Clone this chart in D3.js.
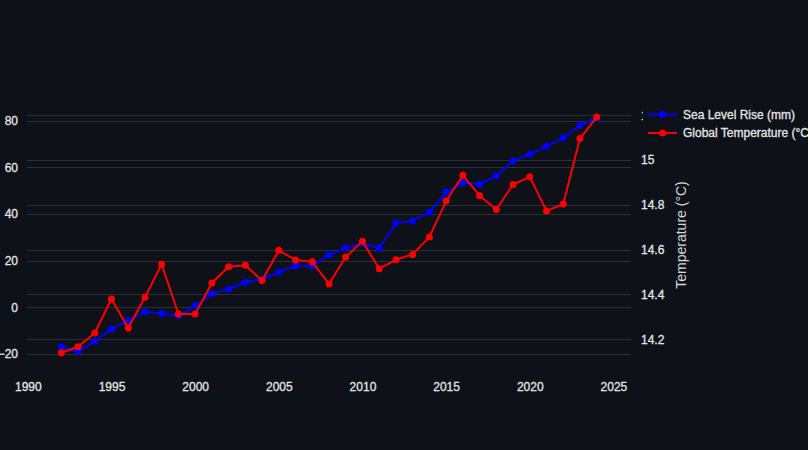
<!DOCTYPE html>
<html>
<head>
<meta charset="utf-8">
<script src="https://cdn.jsdelivr.net/npm/d3@7"></script>
<style>
  html, body { margin: 0; padding: 0; background: #0e1117; }
  svg { display: block; }
  text { font-family: "Liberation Sans", Arial, sans-serif; }
</style>
</head>
<body>
<svg id="chart" width="808" height="450"></svg>
<script>
const years = [1992,1993,1994,1995,1996,1997,1998,1999,2000,2001,2002,2003,2004,2005,2006,2007,2008,2009,2010,2011,2012,2013,2014,2015,2016,2017,2018,2019,2020,2021,2022,2023,2024];
const seaLevel = [-16.9,-19.0,-14.6,-9.3,-5.7,-1.9,-2.7,-3.7,0.6,5.8,7.8,10.7,12.1,15.0,17.8,17.8,22.4,25.5,27.4,25.3,36.1,37.0,40.8,49.4,53.3,52.7,56.3,62.7,65.6,69.0,72.6,78.0,81.0];
const temperature = [14.14,14.167,14.228,14.38,14.25,14.388,14.535,14.313,14.313,14.451,14.524,14.53,14.462,14.597,14.554,14.546,14.447,14.567,14.638,14.515,14.555,14.579,14.657,14.817,14.932,14.841,14.779,14.891,14.925,14.773,14.804,15.096,15.192];
const xTicks = [1990,1995,2000,2005,2010,2015,2020,2025];
const leftTicks = [-20,0,20,40,60,80];
const rightTicks = [14.2,14.4,14.6,14.8,15,15.2];
const seriesNames = ["Sea Level Rise (mm)", "Global Temperature (°C)"];
const seriesColors = ["#0000ff", "#ff0000"];

const svg = d3.select("#chart");
const W = 808, H = 450;
const plot = {left: 27, right: 631, top: 100, bottom: 370};
const bg = "#0e1117", grid = "#2c2f38", tickColor = "#e4e5e8";

svg.append("rect").attr("width", W).attr("height", H).attr("fill", bg);

const x = d3.scaleLinear().domain([1989.95, 2026.05]).range([plot.left, plot.right]);
const yL = d3.scaleLinear().domain([-26.9, 88.8]).range([plot.bottom, plot.top]);
const yR = d3.scaleLinear().domain([14.063, 15.268]).range([plot.bottom, plot.top]);

// grid lines
const gGrid = svg.append("g");
gGrid.selectAll("line.l").data(leftTicks).join("line")
  .attr("x1", plot.left).attr("x2", plot.right)
  .attr("y1", d => Math.round(yL(d)) + 0.5).attr("y2", d => Math.round(yL(d)) + 0.5)
  .attr("stroke", grid).attr("stroke-width", 1);
gGrid.selectAll("line.r").data(rightTicks).join("line")
  .attr("x1", plot.left).attr("x2", plot.right)
  .attr("y1", d => Math.round(yR(d)) + 0.5).attr("y2", d => Math.round(yR(d)) + 0.5)
  .attr("stroke", grid).attr("stroke-width", 1);

const styleText = sel => sel.attr("fill", tickColor).attr("stroke", tickColor)
  .attr("stroke-width", 0.3).style("font-size", "12px")
  .style("font-family", '"Liberation Sans", Arial, sans-serif');

// axes via d3 axis generators (no domain lines, no tick lines)
const fmtMinus = d => (d < 0 ? "\u2212" + Math.abs(d) : String(d));
const axX = svg.append("g").attr("transform", `translate(0,${plot.bottom})`)
  .call(d3.axisBottom(x).tickValues(xTicks).tickFormat(d3.format("d")).tickSize(0).tickPadding(12.5));
const axL = svg.append("g").attr("transform", `translate(${plot.left},0)`)
  .call(d3.axisLeft(yL).tickValues(leftTicks).tickFormat(fmtMinus).tickSize(0).tickPadding(9));
const axR = svg.append("g").attr("transform", `translate(${plot.right},0)`)
  .call(d3.axisRight(yR).tickValues(rightTicks).tickFormat(d => String(d)).tickSize(0).tickPadding(10));
[axX, axL, axR].forEach(a => {
  a.select(".domain").remove();
  a.selectAll("text").call(styleText);
});

// right axis title
svg.append("text")
  .attr("transform", `translate(686,${(plot.top + plot.bottom) / 2}) rotate(-90)`)
  .attr("text-anchor", "middle")
  .attr("fill", "#d6d7da").style("font-size", "14px")
  .text("Temperature (°C)");

// series
const series = [
  {vals: seaLevel, y: yL, color: seriesColors[0]},
  {vals: temperature, y: yR, color: seriesColors[1]}
];
series.forEach(s => {
  const pts = years.map((yr, i) => [yr, s.vals[i]]);
  svg.append("path").datum(pts)
    .attr("fill", "none").attr("stroke", s.color).attr("stroke-width", 2)
    .attr("stroke-linejoin", "round")
    .attr("d", d3.line().x(d => x(d[0])).y(d => s.y(d[1])));
  svg.append("g").selectAll("circle").data(pts).join("circle")
    .attr("cx", d => x(d[0])).attr("cy", d => s.y(d[1])).attr("r", 3.5)
    .attr("fill", s.color);
});

// legend
const leg = svg.append("g");
leg.append("rect").attr("x", 643).attr("y", 103).attr("width", 170).attr("height", 42).attr("fill", bg);
const rows = [114.5, 133];
seriesNames.forEach((name, i) => {
  const g = leg.append("g").attr("transform", `translate(0,${rows[i]})`);
  g.append("line").attr("x1", 648).attr("x2", 677).attr("y1", 0).attr("y2", 0)
    .attr("stroke", seriesColors[i]).attr("stroke-width", 2);
  g.append("circle").attr("cx", 662.5).attr("cy", 0).attr("r", 3.5).attr("fill", seriesColors[i]);
  g.append("text").attr("x", 683).attr("y", 0).attr("dy", "0.35em").call(styleText).text(name);
});
</script>
</body>
</html>
